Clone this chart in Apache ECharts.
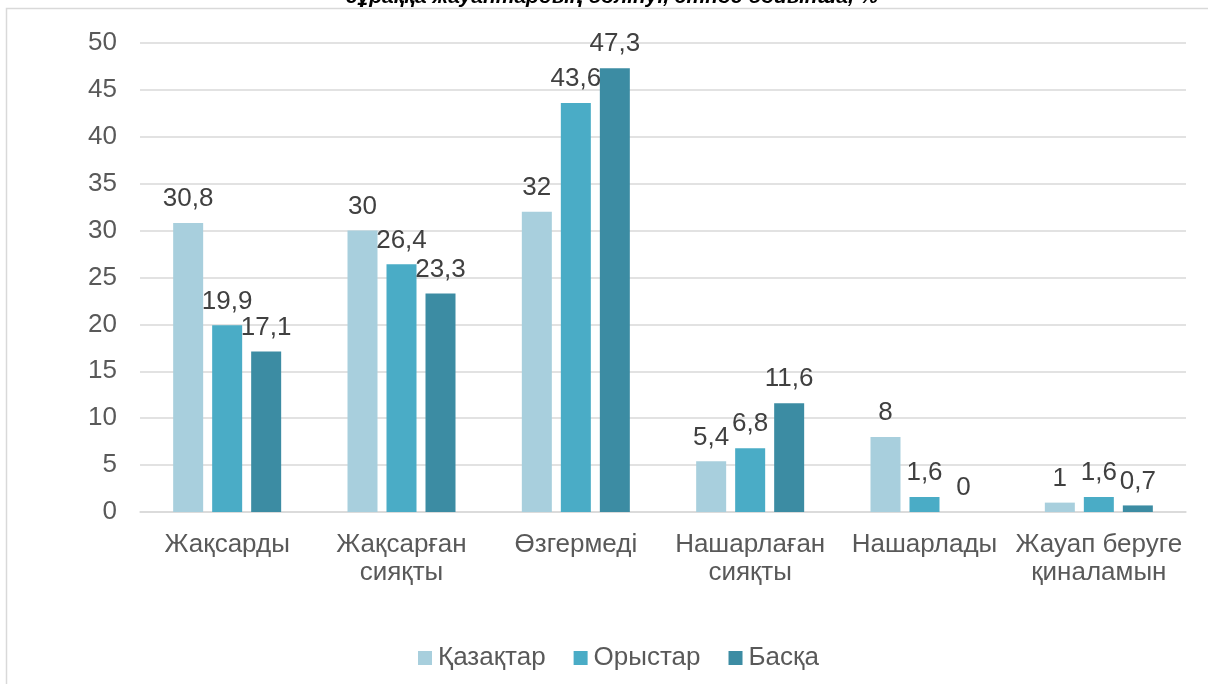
<!DOCTYPE html>
<html><head><meta charset="utf-8">
<script src="https://cdn.jsdelivr.net/npm/echarts@6/dist/echarts.min.js"></script>
<style>html,body{margin:0;padding:0;background:#fff}#c{width:1208px;height:684px}</style>
</head><body><div id="c"></div>
<script>
const categories = ['Жақсарды', 'Жақсарған\nсияқты', 'Өзгермеді', 'Нашарлаған\nсияқты', 'Нашарлады', 'Жауап беруге\nқиналамын'];
const seriesNames = ['Қазақтар', 'Орыстар', 'Басқа'];
const kazakhs = [30.8, 30, 32, 5.4, 8, 1];
const russians = [19.9, 26.4, 43.6, 6.8, 1.6, 1.6];
const others = [17.1, 23.3, 47.3, 11.6, 0, 0.7];
const titleText = 'сұраққа жауаптардың бөлінуі, этнос бойынша, %';
const colors = ['#A8CFDD', '#4AACC6', '#3C8CA3'];
const FONT = '"Liberation Sans", Arial, sans-serif';

const chart = echarts.init(document.getElementById('c'));
const fmt = p => String(p.value).replace('.', ',');
const mk = (name, data, i) => ({
  name, type: 'bar', data, barWidth: 30, barGap: '30%',
  itemStyle: { color: colors[i] },
  label: { show: true, position: 'top', distance: 11, formatter: fmt, fontSize: 26, color: '#404040', fontFamily: FONT }
});
chart.setOption({
  animation: false,
  textStyle: { fontFamily: FONT },
  graphic: [
    { type: 'rect', shape: { x: 6.5, y: 8.5, width: 1220, height: 700 }, style: { fill: 'none', stroke: '#D9D9D9', lineWidth: 1.5 }, silent: true },
    { type: 'text', x: 612, y: 8, style: { text: titleText, font: 'italic bold 21px "Liberation Sans", Arial, sans-serif', fill: '#000', textAlign: 'center', textVerticalAlign: 'bottom' } }
  ],
  grid: { left: 140, right: 22, top: 43, bottom: 172, containLabel: false },
  legend: {
    data: seriesNames, top: 640, left: 413, itemWidth: 14, itemHeight: 14, itemGap: 28,
    icon: 'rect', textStyle: { fontSize: 26, color: '#595959', fontFamily: FONT, padding: [0, 0, 0, 1] }
  },
  xAxis: {
    type: 'category', data: categories,
    axisLine: { lineStyle: { color: '#D9D9D9', width: 1.5 } },
    axisTick: { show: false },
    axisLabel: { fontSize: 26, color: '#595959', margin: 19, lineHeight: 28, interval: 0, fontFamily: FONT }
  },
  yAxis: {
    type: 'value', min: 0, max: 50, interval: 5,
    axisLine: { show: false }, axisTick: { show: false },
    axisLabel: { fontSize: 26, color: '#595959', margin: 23, fontFamily: FONT },
    splitLine: { lineStyle: { color: '#D9D9D9', width: 1.5 } }
  },
  series: [mk(seriesNames[0], kazakhs, 0), mk(seriesNames[1], russians, 1), mk(seriesNames[2], others, 2)]
});
</script></body></html>
